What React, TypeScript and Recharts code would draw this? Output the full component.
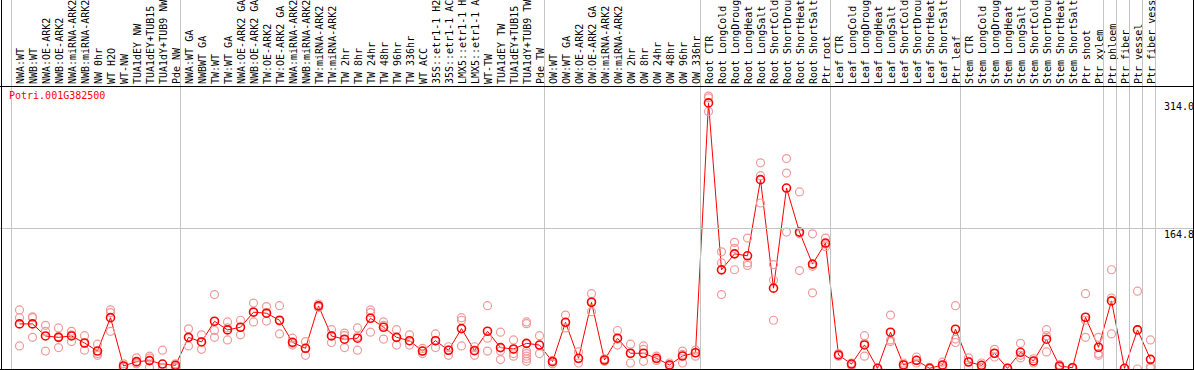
import React from 'react';
import { ComposedChart, Line, Scatter, XAxis, YAxis } from 'recharts';

const geneId = 'Potri.001G382500';

const categories = [
  'NWA:WT', 'NWB:WT', 'NWA:OE-ARK2', 'NWB:OE-ARK2', 'NWA:miRNA-ARK2', 'NWB:miRNA-ARK2',
  'NW 0hr', 'WT H2O', 'WT-NW', 'TUA1dEY NW', 'TUA1dEY+TUB15', 'TUA1dY+TUB9 NW', 'Pde NW',
  'NWA:WT GA', 'NWBWT GA', 'TW:WT', 'TW:WT GA', 'NWA:OE-ARK2 GA', 'NWB:OE-ARK2 GA',
  'TW:OE-ARK2', 'TW:OE-ARK2 GA', 'NWA:miRNA-ARK2', 'NWB:miRNA-ARK2', 'TW:miRNA-ARK2',
  'TW:miRNA-ARK2', 'TW 2hr', 'TW 8hr', 'TW 24hr', 'TW 48hr', 'TW 96hr', 'TW 336hr', 'WT ACC',
  '35S::etr1-1 H2', '35S::etr1-1 AC', 'LMX5::etr1-1 H', 'LMX5::etr1-1 A', 'WT-TW',
  'TUA1dEY TW', 'TUA1dEY+TUB15', 'TUA1dY+TUB9 TW', 'Pde TW',
  'OW:WT', 'OW:WT GA', 'OW:OE-ARK2', 'OW:OE-ARK2 GA', 'OW:miRNA-ARK2', 'OW:miRNA-ARK2',
  'OW 2hr', 'OW 8hr', 'OW 24hr', 'OW 48hr', 'OW 96hr', 'OW 336hr',
  'Root CTR', 'Root LongCold', 'Root LongDroug', 'Root LongHeat', 'Root LongSalt',
  'Root ShortCold', 'Root ShortDrou', 'Root ShortHeat', 'Root ShortSalt', 'Ptr root',
  'Leaf CTR', 'Leaf LongCold', 'Leaf LongDroug', 'Leaf LongHeat', 'Leaf LongSalt',
  'Leaf ShortCold', 'Leaf ShortDrou', 'Leaf ShortHeat', 'Leaf ShortSalt', 'Ptr leaf',
  'Stem CTR', 'Stem LongCold', 'Stem LongDroug', 'Stem LongHeat', 'Stem LongSalt',
  'Stem ShortCold', 'Stem ShortDrou', 'Stem ShortHeat', 'Stem ShortSalt', 'Ptr shoot',
  'Ptr xylem', 'Ptr phloem', 'Ptr fiber', 'Ptr vessel', 'Ptr fiber vess',
];

// mean expression per sample (red line)
const means = [
  52.7, 52.7, 38.6, 37, 38.6, 30.4, 21, 60, 3.5, 8.6, 9.8, 5.8, 4.3,
  37, 31.6, 55.8, 45.7, 48.8, 66.4, 65.2, 57, 31.2, 24.2, 73.8, 38.6, 34.8, 36, 59.3,
  48.8, 37, 33.1, 21, 33.1, 21.9, 47.2, 21.4, 44.1, 25, 23.4, 30, 28,
  8.6, 54.6, 12.5, 78, 10.5, 36, 18.4, 18.4, 12.5, 4.7, 15.2, 19,
  311, 115.9, 134.6, 132.3, 221.3, 94.5, 211.5, 160, 122.6, 147.2,
  16.4, 5.8, 28.1, 0.8, 43, 4.7, 10.2, 0.8, 4.7, 46.5,
  8.2, 4.3, 18.4, 0.8, 19.5, 9.4, 34.8, 3.5, 1.5, 60.5,
  25.4, 79.6, 0.8, 45.7, 11.3,
];

// individual replicates (pink circles)
const replicates = [
  [69, 60, 27], [61, 60, 37], [51, 44, 21], [48, 38, 25], [44, 40, 32], [39, 30, 22],
  [29, 18, 16], [69, 66, 44], [6, 3, 2], [13, 7, 6], [15, 13, 2], [22, 2, 1], [6, 3, 2],
  [47, 37, 27], [40, 32, 23], [87, 45, 37], [55, 48, 34], [57, 49, 40], [77, 67, 55],
  [73, 66, 56], [74, 56, 41], [36, 30, 28], [32, 24, 16], [76, 73, 72], [46, 39, 31],
  [42, 39, 25], [48, 38, 22], [69, 66, 43], [55, 51, 35], [46, 37, 28], [40, 33, 28],
  [24, 21, 18], [41, 33, 25], [26, 22, 16], [60, 57, 27], [26, 22, 16], [74, 36, 21],
  [43, 21, 11], [34, 23, 18, 15], [55, 53, 21, 18, 15, 12, 9], [39, 28, 18],
  [10, 9, 6], [63, 54, 48], [20, 12, 7], [88, 79, 67], [12, 10, 9], [45, 35, 28],
  [29, 18, 7], [27, 23, 9], [15, 12, 10], [7, 5, 3], [21, 17, 7], [22, 19, 15],
  [319, 317, 301], [137, 124, 87], [148, 141, 116], [153, 124, 121], [241, 226, 194],
  [122, 104, 57], [246, 229, 160], [207, 158, 115], [158, 120, 89], [153, 146, 143],
  [18, 16, 15], [7, 6, 4], [39, 30, 15], [1, 1, 0], [63, 34, 32], [7, 5, 2], [14, 10, 7],
  [2, 1, 0], [8, 4, 2], [74, 35, 31],
  [13, 9, 2], [7, 4, 2], [23, 18, 14], [1, 1, 0], [30, 16, 13], [12, 9, 7], [46, 39, 20],
  [5, 3, 2], [2, 1, 1], [88, 57, 37],
  [37, 18, 16], [116, 83, 41], [1, 0, 0], [91, 46, 0], [34, 3, 1],
];

const yTicks = [0, 164.8, 314.0];
const groupStarts = [0, 13, 41, 53, 63, 73, 84, 85, 86, 87];

const FONT = '"DejaVu Sans Mono", monospace';
const GRID = '#c4c4c4';
const RED = '#ff0000';
const PINK = '#f09a9a';

const lineData = means.map((v, i) => ({ idx: i, v }));
const repData = replicates.flatMap((reps, i) => reps.map((v) => ({ idx: i, v })));

function TopTick(props: any) {
  const { x, payload } = props;
  const i = payload.value;
  const bx = x + 4;
  return (
    <g>
      {groupStarts.includes(i) && (
        <line x1={x - 8} x2={x - 8} y1={0} y2={370} stroke={GRID} />
      )}
      {i === categories.length - 1 && (
        <line x1={x + 5} x2={x + 5} y1={0} y2={370} stroke={GRID} />
      )}
      <text
        x={bx}
        y={84}
        transform={`rotate(-90, ${bx}, 84)`}
        fontFamily={FONT}
        fontSize={10}
        fill="#000"
        textAnchor="start"
      >
        {categories[i]}
      </text>
    </g>
  );
}

function RightTick(props: any) {
  const { x, y, payload } = props;
  const v = payload.value;
  return (
    <g>
      {v === 164.8 && (
        <line x1={0} x2={1194} y1={Math.floor(y) + 0.5} y2={Math.floor(y) + 0.5} stroke={GRID} />
      )}
      <text
        x={x}
        y={v === 0 ? y - 3 : y + 10}
        fontFamily={FONT}
        fontSize={10}
        fill="#000"
        textAnchor="start"
      >
        {v === 0 ? '0' : v.toFixed(1)}
      </text>
    </g>
  );
}

const frame = (style: React.CSSProperties) => (
  <div style={{ position: 'absolute', background: '#000', ...style }} />
);

export default function App() {
  return (
    <div style={{ position: 'absolute', left: 0, top: 0, width: 1194, height: 370, background: '#fff' }}>
      <ComposedChart width={1194} height={370} margin={{ top: 0, right: 0, bottom: 1, left: 13 }}>
        <XAxis
          dataKey="idx"
          type="number"
          orientation="top"
          domain={[-0.5, categories.length - 0.5]}
          ticks={categories.map((_, i) => i)}
          interval={0}
          height={87}
          axisLine={false}
          tickLine={false}
          tick={<TopTick />}
          allowDataOverflow
        />
        <YAxis
          orientation="right"
          type="number"
          domain={[0, 329.6]}
          ticks={yTicks}
          width={37}
          axisLine={false}
          tickLine={false}
          tickSize={0}
          tickMargin={7}
          tick={<RightTick />}
          allowDataOverflow
        />
        <Scatter
          data={repData}
          dataKey="v"
          isAnimationActive={false}
          shape={(p: any) => (
            <circle cx={p.cx} cy={p.cy} r={4} fill="none" stroke={PINK} strokeWidth={1.2} />
          )}
        />
        <Line
          data={lineData}
          dataKey="v"
          type="linear"
          stroke={RED}
          strokeWidth={1}
          isAnimationActive={false}
          dot={(p: any) => (
            <circle key={p.index} cx={p.cx} cy={p.cy} r={4} fill="none" stroke={RED} strokeWidth={1.6} />
          )}
        />
      </ComposedChart>
      {frame({ left: 1, top: 0, width: 1, height: 370 })}
      {frame({ left: 1193, top: 0, width: 1, height: 370 })}
      {frame({ left: 0, top: 86, width: 1194, height: 1 })}
      {frame({ left: 0, top: 369, width: 1194, height: 1 })}
      <div
        style={{
          position: 'absolute',
          left: 9,
          top: 90,
          fontFamily: FONT,
          fontSize: 10,
          lineHeight: '12px',
          color: RED,
        }}
      >
        {geneId}
      </div>
    </div>
  );
}
